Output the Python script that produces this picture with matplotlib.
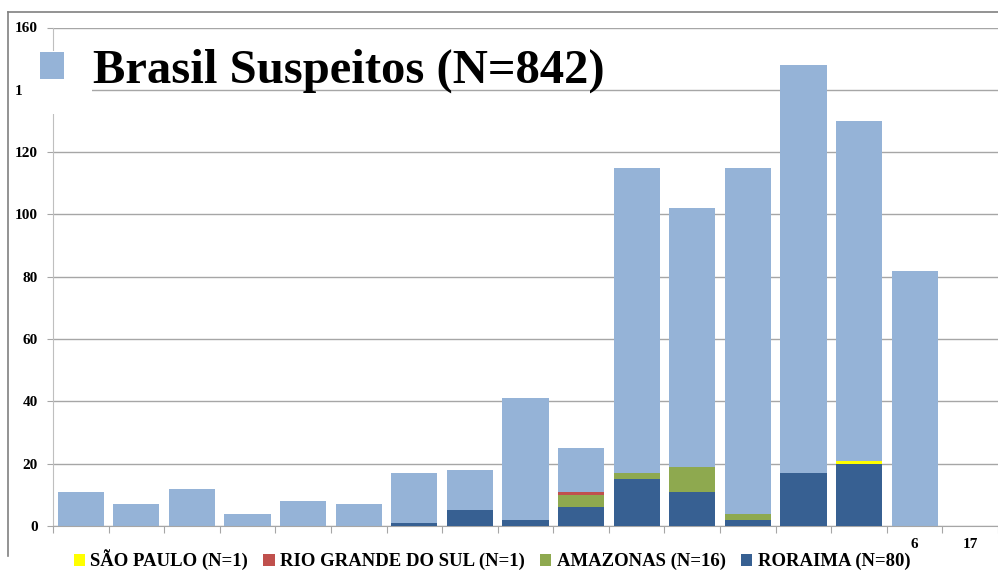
import matplotlib
matplotlib.use("Agg")
import matplotlib.pyplot as plt
import numpy as np
from matplotlib.patches import Patch, Rectangle
from matplotlib.lines import Line2D

# Weekly counts (17 categories)
categories = list(range(1, 18))
brasil = [11, 7, 12, 4, 8, 7, 17, 18, 41, 25, 115, 102, 115, 148, 130, 82, 0]
roraima = [0, 0, 0, 0, 0, 0, 1, 5, 2, 6, 15, 11, 2, 17, 20, 0, 0]
amazonas = [0, 0, 0, 0, 0, 0, 0, 0, 0, 4, 2, 8, 2, 0, 0, 0, 0]
rio_grande = [0, 0, 0, 0, 0, 0, 0, 0, 0, 1, 0, 0, 0, 0, 0, 0, 0]
sao_paulo = [0, 0, 0, 0, 0, 0, 0, 0, 0, 0, 0, 0, 0, 0, 1, 0, 0]
x_labels = [""] * 15 + ["6", "17"]
y_ticks = [0, 20, 40, 60, 80, 100, 120, 140, 160]

C_BRASIL = "#95B3D7"
C_RORAIMA = "#376092"
C_AMAZONAS = "#8EA94F"
C_RGS = "#C0504D"
C_SP = "#FFFF00"
SERIF = "Liberation Serif"

fig = plt.figure(figsize=(9.98, 5.72), dpi=100)
ax = fig.add_axes([53 / 998, 46 / 572, 945 / 998, 498.5 / 572])

x = np.array(categories)
w = 0.83
ax.bar(x, brasil, width=w, color=C_BRASIL, zorder=2)
bottom = np.zeros(len(x))
for vals, col in [(roraima, C_RORAIMA), (amazonas, C_AMAZONAS),
                  (rio_grande, C_RGS), (sao_paulo, C_SP)]:
    v = np.array(vals)
    ax.bar(x, v, width=w, bottom=bottom, color=col, zorder=3)
    bottom += v

ax.set_xlim(0.5, 17.5)
ax.set_ylim(0, 160)
ax.set_yticks(y_ticks)
ax.set_yticklabels([str(t) for t in y_ticks], fontfamily=SERIF,
                   fontweight="bold", fontsize=11)
ax.yaxis.grid(True, color="#A6A6A6", linewidth=1, zorder=0)
ax.set_axisbelow(True)

# tick marks at category boundaries, labels at centers
ax.set_xticks(np.arange(0.5, 17.6, 1.0))
ax.set_xticklabels([])
ax.set_xticks(x, minor=True)
ax.set_xticklabels(x_labels, minor=True, fontfamily=SERIF,
                   fontweight="bold", fontsize=11)
ax.tick_params(axis="x", which="minor", length=0, pad=9)
ax.tick_params(axis="x", which="major", length=5, color="#A6A6A6")
ax.tick_params(axis="y", length=4, color="#A6A6A6", pad=7)

for s in ["top", "right"]:
    ax.spines[s].set_visible(False)
ax.spines["left"].set_color("#BFBFBF")
ax.spines["bottom"].set_color("#A6A6A6")

# outer frame
fig.add_artist(Line2D([8 / 998, 1.0], [1 - 12 / 572, 1 - 12 / 572],
                      color="#808080", linewidth=1.2))
fig.add_artist(Line2D([8 / 998, 8 / 998], [1 - 12 / 572, 1 - 556 / 572],
                      color="#808080", linewidth=1.2))

# white box behind the series legend (hides part of the axis, as in the source)
fig.add_artist(Rectangle((22 / 998, 1 - 114 / 572), 70 / 998, 63 / 572,
                         facecolor="white", edgecolor="none", zorder=4,
                         transform=fig.transFigure))

title_font = {"family": SERIF, "weight": "bold", "size": 35}
fig.legend(handles=[Patch(facecolor=C_BRASIL)],
           labels=["Brasil Suspeitos (N=842)"],
           loc="center left", bbox_to_anchor=(40 / 998, 1 - 71 / 572),
           prop=title_font, frameon=False,
           handlelength=0.5, handleheight=0.48, handletextpad=0.6,
           borderpad=0, borderaxespad=0)

leg_font = {"family": SERIF, "weight": "bold", "size": 13.5}
handles = [Patch(facecolor=C_SP), Patch(facecolor=C_RGS),
           Patch(facecolor=C_AMAZONAS), Patch(facecolor=C_RORAIMA)]
labels = ["SÃO PAULO (N=1)", "RIO GRANDE DO SUL (N=1)",
          "AMAZONAS (N=16)", "RORAIMA (N=80)"]
fig.legend(handles=handles, labels=labels, loc="center",
           bbox_to_anchor=(492 / 998, 1 - 560 / 572), ncol=4, prop=leg_font,
           frameon=False, handlelength=0.6, handleheight=0.6,
           handletextpad=0.3, columnspacing=0.8, borderaxespad=0, borderpad=0)

fig.savefig("out.png", dpi=100)
